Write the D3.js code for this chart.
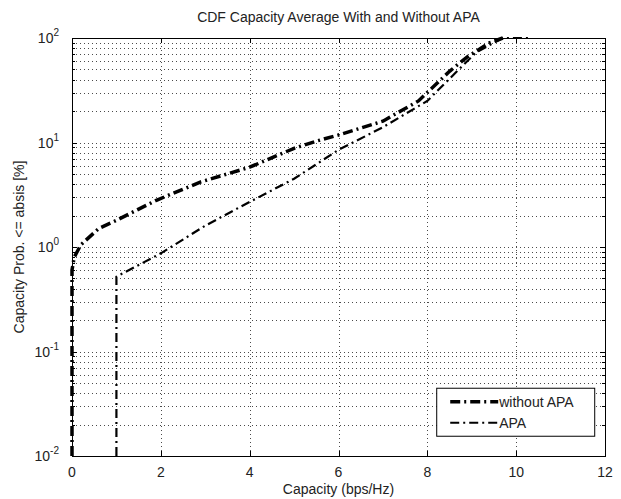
<!DOCTYPE html>
<html>
<head>
<meta charset="utf-8">
<script src="https://cdn.jsdelivr.net/npm/d3@7"></script>
<style>
	body { margin: 0; background: #fff; }
	svg { display: block; font-family: "Liberation Sans", Arial, sans-serif; }
</style>
</head>
<body>
<svg id="chart" width="621" height="499"></svg>
<script>
'use strict';

// Capacity (bps/Hz) and cumulative probability (%)
var without_apa_x = [0, 0, 0.05, 0.2, 0.6, 1, 1.9, 2.9, 4, 5, 5.5, 6, 7, 7.4, 7.8, 8.1, 8.5, 8.9, 9.4, 9.7];
var without_apa_y = [0.01, 0.6, 0.8, 1.05, 1.5, 1.8, 2.8, 4.2, 5.8, 8.8, 10.3, 11.8, 16, 20, 25, 33, 48, 66, 90, 100];
var apa_x = [1, 1, 2, 3, 4, 5, 6, 7, 7.7, 8, 8.4, 9.1, 9.7, 10.3];
var apa_y = [0.01, 0.52, 0.87, 1.6, 2.7, 4.5, 8.5, 14, 21, 25, 37, 73, 100, 100];

var x_ticks = [0, 2, 4, 6, 8, 10, 12];
var y_decades = [-2, -1, 0, 1, 2];
var series_names = ['without APA', 'APA'];

var chart_title = 'CDF Capacity Average With and Without APA';
var x_title = 'Capacity (bps/Hz)';
var y_title = 'Capacity Prob. <= absis [%]';

//===============================================================
// Layout
//===============================================================
var margin = { left: 72, right: 16, top: 38, bottom: 43 };
var width = 621 - margin.left - margin.right;
var height = 499 - margin.top - margin.bottom;

var svg = d3.select('#chart');
var canvas = svg.append('g')
	.attr('transform', 'translate(' + margin.left + ',' + margin.top + ')');

var x_scale = d3.scaleLinear().domain([0, 12]).range([0, width]);
var y_scale = d3.scaleLog().domain([0.01, 100]).range([height, 0]);

// minor values 2..9 inside each decade
var minor_vals = [];
y_decades.slice(0, -1).forEach(function(e) {
	for (var k = 2; k <= 9; k += 1) {
		minor_vals.push(k * Math.pow(10, e));
	}
});
var major_vals = y_decades.map(function(e) { return Math.pow(10, e); });

// Dotted grid, MATLAB style
var grid = canvas.append('g').attr('class', 'grid')
	.attr('stroke', '#000')
	.attr('stroke-width', 1)
	.attr('stroke-dasharray', '1,3')
	.attr('opacity', 0.7);

grid.selectAll('line.gy')
	.data(minor_vals.concat(major_vals.slice(1, -1)))
	.enter().append('line')
	.attr('x1', 0).attr('x2', width)
	.attr('y1', function(d) { return Math.round(y_scale(d)) + 0.5; })
	.attr('y2', function(d) { return Math.round(y_scale(d)) + 0.5; });

grid.selectAll('line.gx')
	.data(x_ticks.slice(1, -1))
	.enter().append('line')
	.attr('y1', 0).attr('y2', height)
	.attr('x1', function(d) { return Math.round(x_scale(d)) + 0.5; })
	.attr('x2', function(d) { return Math.round(x_scale(d)) + 0.5; });

// Tick marks pointing inward on all four sides
var ticks = canvas.append('g').attr('stroke', '#000').attr('stroke-width', 1);
x_ticks.forEach(function(d) {
	var xp = Math.round(x_scale(d)) + 0.5;
	ticks.append('line').attr('x1', xp).attr('x2', xp).attr('y1', height).attr('y2', height - 5);
	ticks.append('line').attr('x1', xp).attr('x2', xp).attr('y1', 0).attr('y2', 5);
});
major_vals.concat(minor_vals).forEach(function(d, i) {
	var yp = Math.round(y_scale(d)) + 0.5;
	var len = i < major_vals.length ? 5 : 3;
	ticks.append('line').attr('x1', 0).attr('x2', len).attr('y1', yp).attr('y2', yp);
	ticks.append('line').attr('x1', width).attr('x2', width - len).attr('y1', yp).attr('y2', yp);
});

// Axis box
canvas.append('rect')
	.attr('x', 0.5).attr('y', 0.5)
	.attr('width', width).attr('height', height)
	.attr('fill', 'none').attr('stroke', '#000').attr('stroke-width', 1);

// Tick labels
canvas.selectAll('text.xt')
	.data(x_ticks)
	.enter().append('text')
	.attr('x', function(d) { return x_scale(d); })
	.attr('y', height + 21)
	.attr('text-anchor', 'middle')
	.attr('font-size', 14)
	.attr('fill', '#222')
	.text(function(d) { return d; });

var ylab = canvas.selectAll('text.yt')
	.data(y_decades)
	.enter().append('text')
	.attr('x', -13)
	.attr('y', function(d) { return y_scale(Math.pow(10, d)) + 5; })
	.attr('text-anchor', 'end')
	.attr('font-size', 14)
	.attr('fill', '#222');
ylab.append('tspan').text('10');
ylab.append('tspan')
	.attr('dy', -7)
	.attr('font-size', 10)
	.text(function(d) { return d; });

// Curves
var line = d3.line()
	.x(function(d) { return x_scale(d[0]); })
	.y(function(d) { return y_scale(d[1]); });

var series = [
	{ name: series_names[0], pts: d3.zip(without_apa_x, without_apa_y), width: 3.5, dash: '10,4,2,4' },
	{ name: series_names[1], pts: d3.zip(apa_x, apa_y), width: 2.2, dash: '9,4,2,4' }
];

canvas.selectAll('path.curve')
	.data(series)
	.enter().append('path')
	.attr('class', 'curve')
	.attr('d', function(d) { return line(d.pts); })
	.attr('fill', 'none')
	.attr('stroke', '#000')
	.attr('stroke-width', function(d) { return d.width; })
	.attr('stroke-dasharray', function(d) { return d.dash; });

// Legend
var legend = canvas.append('g')
	.attr('transform', 'translate(' + (x_scale(8.2)) + ',' + (y_scale(0.045)) + ')');
legend.append('rect')
	.attr('x', 0.5).attr('y', 0.5)
	.attr('width', 158).attr('height', 48)
	.attr('fill', '#fff').attr('stroke', '#000');
series.forEach(function(s, i) {
	var yy = 14 + i * 21;
	legend.append('line')
		.attr('x1', 14).attr('x2', 62)
		.attr('y1', yy).attr('y2', yy)
		.attr('stroke', '#000')
		.attr('stroke-width', s.width)
		.attr('stroke-dasharray', s.dash);
	legend.append('text')
		.attr('x', 63).attr('y', yy + 5)
		.attr('font-size', 14)
		.attr('fill', '#222')
		.text(s.name);
});

// Titles
svg.append('text')
	.attr('x', margin.left + width / 2).attr('y', 22)
	.attr('text-anchor', 'middle')
	.attr('font-size', 14)
	.attr('fill', '#222')
	.text(chart_title);

svg.append('text')
	.attr('x', margin.left + width / 2).attr('y', 494)
	.attr('text-anchor', 'middle')
	.attr('font-size', 14)
	.attr('fill', '#222')
	.text(x_title);

svg.append('text')
	.attr('transform', 'translate(24,' + (margin.top + height / 2) + ') rotate(-90)')
	.attr('text-anchor', 'middle')
	.attr('font-size', 14)
	.attr('fill', '#222')
	.text(y_title);
</script>
</body>
</html>
